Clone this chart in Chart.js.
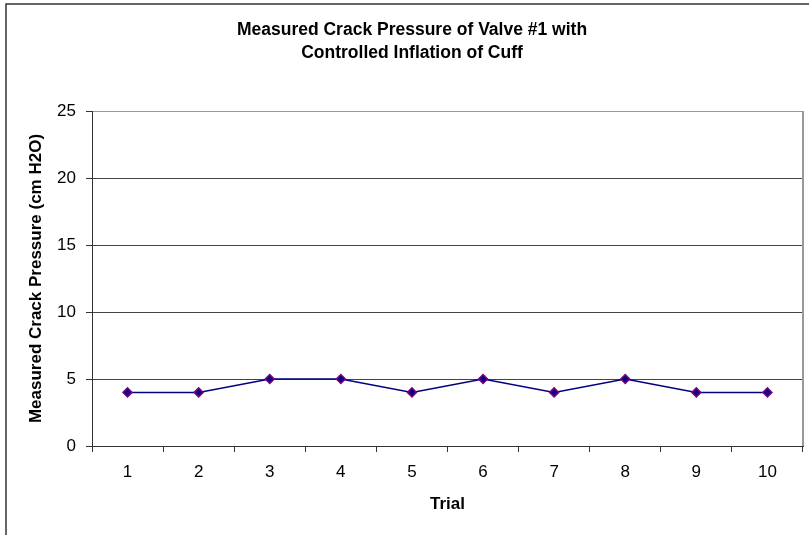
<!DOCTYPE html>
<html>
<head>
<meta charset="utf-8">
<script src="https://cdn.jsdelivr.net/npm/chart.js@4/dist/chart.umd.min.js"></script>
<style>
  html, body { margin: 0; padding: 0; background: #fff; }
  canvas { display: block; }
</style>
</head>
<body>
<canvas id="c" width="809" height="535"></canvas>
<script>
const trials = ['1', '2', '3', '4', '5', '6', '7', '8', '9', '10'];
const crackPressure = [4, 4, 5, 5, 4, 5, 4, 5, 4, 4];
const yTicks = [0, 5, 10, 15, 20, 25];
const titleLines = ['Measured Crack Pressure of Valve #1 with', 'Controlled Inflation of Cuff'];
const xTitle = 'Trial';
const yTitle = 'Measured Crack Pressure (cm H2O)';

const FONT = '"Liberation Sans", Arial, sans-serif';

const decor = {
  id: 'decor',
  afterDraw(chart) {
    const ctx = chart.ctx;
    const a = chart.chartArea;
    ctx.save();
    // plot right border
    ctx.strokeStyle = '#999999';
    ctx.lineWidth = 2;
    ctx.beginPath();
    ctx.moveTo(a.right, a.top);
    ctx.lineTo(a.right, a.bottom);
    ctx.stroke();
    // outer frame
    ctx.strokeStyle = '#333333';
    ctx.lineWidth = 1.5;
    ctx.beginPath();
    ctx.moveTo(6, 535);
    ctx.lineTo(6, 4);
    ctx.lineTo(809, 4);
    ctx.stroke();
    // title
    ctx.fillStyle = '#000';
    ctx.font = 'bold 17.5px ' + FONT;
    ctx.textAlign = 'center';
    ctx.textBaseline = 'middle';
    ctx.fillText(titleLines[0], 412, 30);
    ctx.fillText(titleLines[1], 412, 53);
    ctx.restore();
  }
};

new Chart(document.getElementById('c'), {
  type: 'line',
  data: {
    labels: trials,
    datasets: [{
      data: crackPressure,
      borderColor: '#000080',
      borderWidth: 1.5,
      backgroundColor: '#000080',
      pointStyle: 'rectRot',
      pointRadius: 4.5,
      pointBackgroundColor: '#000080',
      pointBorderColor: '#800080',
      pointBorderWidth: 1.5,
      tension: 0,
      fill: false
    }]
  },
  options: {
    responsive: false,
    animation: false,
    devicePixelRatio: 1,
    layout: { padding: { top: 111, right: 6, bottom: 0, left: 0 } },
    plugins: {
      legend: { display: false },
      tooltip: { enabled: false },
      title: { display: false }
    },
    scales: {
      x: {
        type: 'category',
        offset: true,
        grid: { offset: true, drawOnChartArea: false, drawTicks: true, tickLength: 6, color: '#333333', lineWidth: 1 },
        border: { color: '#333333', width: 1 },
        ticks: { color: '#000', padding: 10, font: { family: FONT, size: 17 }, maxRotation: 0 },
        title: { display: true, text: xTitle, color: '#000', font: { family: FONT, size: 17, weight: 'bold' }, padding: { top: 0, bottom: 20.8 } },
        afterFit(s) { s.height = 89; }
      },
      y: {
        min: 0,
        max: 25,
        afterBuildTicks(s) { s.ticks = yTicks.map(v => ({ value: v })); },
        grid: {
          color: (c) => (c.tick && c.tick.value === 25) ? '#999999' : '#444444',
          lineWidth: 1,
          tickLength: 6,
          tickColor: '#333333'
        },
        border: { color: '#333333', width: 1 },
        ticks: { color: '#000', padding: 10, font: { family: FONT, size: 17 } },
        title: { display: true, text: yTitle, color: '#000', font: { family: FONT, size: 17, weight: 'bold' }, padding: { top: 25.8, bottom: 0 } },
        afterFit(s) { s.width = 92; }
      }
    }
  },
  plugins: [decor]
});
</script>
</body>
</html>
